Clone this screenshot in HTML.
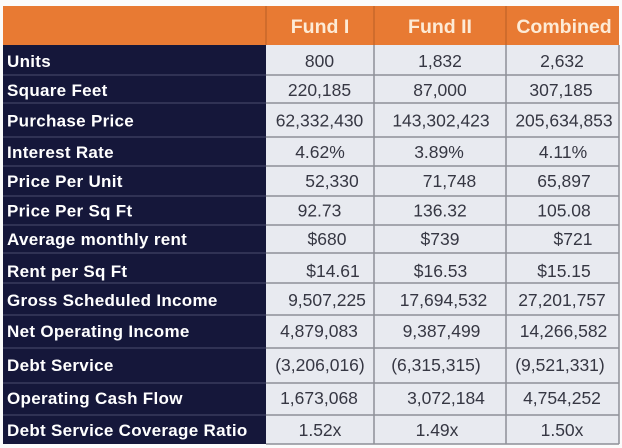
<!DOCTYPE html>
<html>
<head>
<meta charset="utf-8">
<style>
  html,body{margin:0;padding:0;background:#fbfbfb;}
  body{width:622px;height:448px;overflow:hidden;}
  svg{display:block;}
  .lab{font-family:"Liberation Sans",sans-serif;font-weight:bold;font-size:17px;fill:#ffffff;letter-spacing:0.3px;}
  .val{font-family:"Liberation Sans",sans-serif;font-size:17.5px;fill:#363743;text-anchor:middle;}
  .hd{font-family:"Liberation Sans",sans-serif;font-weight:bold;font-size:19.5px;fill:#fdebd6;text-anchor:middle;}
</style>
</head>
<body>
<svg width="622" height="448" viewBox="0 0 622 448" xmlns="http://www.w3.org/2000/svg">
  <rect x="0" y="0" width="622" height="448" fill="#fbfbfb"/>
  <!-- header -->
  <rect x="3" y="6" width="616" height="39" fill="#e87a33"/>
  <line x1="266" y1="6" x2="266" y2="45" stroke="#c9672b" stroke-width="1.5"/>
  <line x1="374" y1="6" x2="374" y2="45" stroke="#c9672b" stroke-width="1.5"/>
  <line x1="506" y1="6" x2="506" y2="45" stroke="#c9672b" stroke-width="1.5"/>
  <text class="hd" x="320" y="33">Fund I</text>
  <text class="hd" x="440" y="33">Fund II</text>
  <text class="hd" x="564" y="33">Combined</text>

  <!-- label column -->
  <rect x="3" y="45" width="263" height="399" fill="#15173a"/>
  <!-- cells -->
  <rect x="266" y="45" width="353" height="399" fill="#e8eaf0"/>

  <!-- row separators: label column -->
  <g stroke="#3a3c5c" stroke-width="1.5">
    <line x1="3" y1="75" x2="266" y2="75"/>
    <line x1="3" y1="103" x2="266" y2="103"/>
    <line x1="3" y1="137" x2="266" y2="137"/>
    <line x1="3" y1="166" x2="266" y2="166"/>
    <line x1="3" y1="196" x2="266" y2="196"/>
    <line x1="3" y1="225" x2="266" y2="225"/>
    <line x1="3" y1="253" x2="266" y2="253"/>
    <line x1="3" y1="283" x2="266" y2="283"/>
    <line x1="3" y1="315" x2="266" y2="315"/>
    <line x1="3" y1="348" x2="266" y2="348"/>
    <line x1="3" y1="383" x2="266" y2="383"/>
    <line x1="3" y1="415" x2="266" y2="415"/>
  </g>
  <!-- row separators: cells -->
  <g stroke="#8e9098" stroke-width="1.5">
    <line x1="266" y1="75" x2="619" y2="75"/>
    <line x1="266" y1="103" x2="619" y2="103"/>
    <line x1="266" y1="137" x2="619" y2="137"/>
    <line x1="266" y1="166" x2="619" y2="166"/>
    <line x1="266" y1="196" x2="619" y2="196"/>
    <line x1="266" y1="225" x2="619" y2="225"/>
    <line x1="266" y1="253" x2="619" y2="253"/>
    <line x1="266" y1="283" x2="619" y2="283"/>
    <line x1="266" y1="315" x2="619" y2="315"/>
    <line x1="266" y1="348" x2="619" y2="348"/>
    <line x1="266" y1="383" x2="619" y2="383"/>
    <line x1="266" y1="415" x2="619" y2="415"/>
    <line x1="266" y1="444" x2="619" y2="444"/>
    <line x1="374" y1="45" x2="374" y2="444"/>
    <line x1="506" y1="45" x2="506" y2="444"/>
    <line x1="619" y1="45" x2="619" y2="444"/>
  </g>

  <!-- labels -->
  <text class="lab" x="7" y="67">Units</text>
  <text class="lab" x="7" y="96">Square Feet</text>
  <text class="lab" x="7" y="126.5">Purchase Price</text>
  <text class="lab" x="7" y="158">Interest Rate</text>
  <text class="lab" x="7" y="187">Price Per Unit</text>
  <text class="lab" x="7" y="216.5">Price Per Sq Ft</text>
  <text class="lab" x="7" y="245">Average monthly rent</text>
  <text class="lab" x="7" y="277">Rent per Sq Ft</text>
  <text class="lab" x="7" y="306">Gross Scheduled Income</text>
  <text class="lab" x="7" y="337">Net Operating Income</text>
  <text class="lab" x="7" y="371">Debt Service</text>
  <text class="lab" x="7" y="404">Operating Cash Flow</text>
  <text class="lab" x="7" y="436">Debt Service Coverage Ratio</text>

  <!-- Fund I -->
  <text class="val" x="319.5" y="67">800</text>
  <text class="val" x="319.5" y="96">220,185</text>
  <text class="val" x="319.5" y="126.5">62,332,430</text>
  <text class="val" x="320" y="158">4.62%</text>
  <text class="val" x="332" y="187">52,330</text>
  <text class="val" x="319.5" y="216.5">92.73</text>
  <text class="val" x="327" y="245">$680</text>
  <text class="val" x="333" y="277">$14.61</text>
  <text class="val" x="327" y="306">9,507,225</text>
  <text class="val" x="319" y="337">4,879,083</text>
  <text class="val" x="320" y="371">(3,206,016)</text>
  <text class="val" x="319" y="404">1,673,068</text>
  <text class="val" x="320" y="436">1.52x</text>

  <!-- Fund II -->
  <text class="val" x="440" y="67">1,832</text>
  <text class="val" x="440" y="96">87,000</text>
  <text class="val" x="441" y="126.5">143,302,423</text>
  <text class="val" x="439" y="158">3.89%</text>
  <text class="val" x="449.5" y="187">71,748</text>
  <text class="val" x="440" y="216.5">136.32</text>
  <text class="val" x="440" y="245">$739</text>
  <text class="val" x="440.5" y="277">$16.53</text>
  <text class="val" x="443.5" y="306">17,694,532</text>
  <text class="val" x="441.5" y="337">9,387,499</text>
  <text class="val" x="436" y="371">(6,315,315)</text>
  <text class="val" x="446" y="404">3,072,184</text>
  <text class="val" x="437" y="436">1.49x</text>

  <!-- Combined -->
  <text class="val" x="562" y="67">2,632</text>
  <text class="val" x="561" y="96">307,185</text>
  <text class="val" x="564" y="126.5">205,634,853</text>
  <text class="val" x="563" y="158">4.11%</text>
  <text class="val" x="564" y="187">65,897</text>
  <text class="val" x="564" y="216.5">105.08</text>
  <text class="val" x="573" y="245">$721</text>
  <text class="val" x="564" y="277">$15.15</text>
  <text class="val" x="562" y="306">27,201,757</text>
  <text class="val" x="563.5" y="337">14,266,582</text>
  <text class="val" x="560" y="371">(9,521,331)</text>
  <text class="val" x="562" y="404">4,754,252</text>
  <text class="val" x="562" y="436">1.50x</text>
</svg>
</body>
</html>
